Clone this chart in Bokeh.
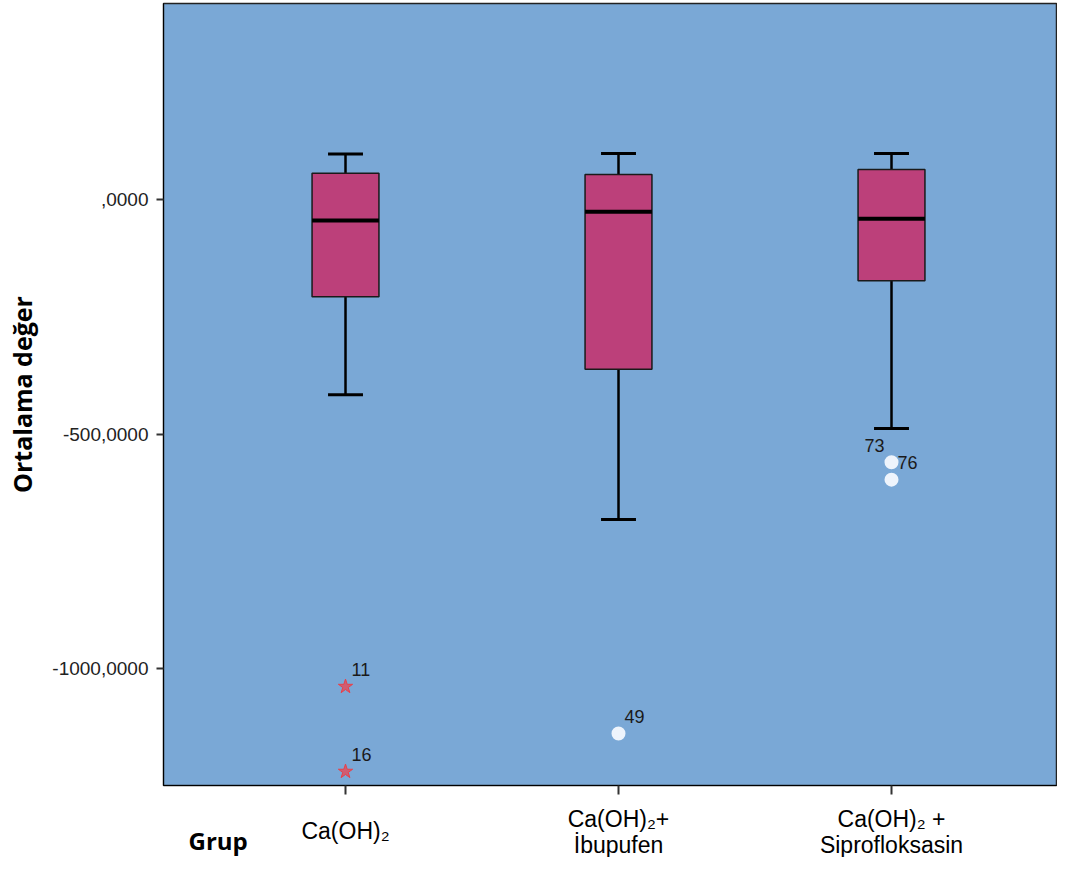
from bokeh.plotting import figure
from bokeh.models import Range1d, FixedTicker
from bokeh.layouts import column
from bokeh.core.properties import value
from bokeh.embed import file_html
from bokeh.resources import INLINE

# ---- data ----
groups = [1, 2, 3]
tick_lines = [["Ca(OH)₂"], ["Ca(OH)₂+", "İbupufen"], ["Ca(OH)₂ +", "Siprofloksasin"]]
x_title = "Grup"
y_title = "Ortalama değer"
whisker_hi = [97, 98, 98]
q3 = [56, 53, 64]
median = [-45, -26, -41]
q1 = [-207, -362, -173]
whisker_lo = [-416, -682, -488]

extreme_x = [1, 1]
extreme_y = [-1038, -1219]
extreme_id = ["11", "16"]

outlier_x = [2, 3, 3]
outlier_y = [-1138, -560, -597]
outlier_id = ["49", "73", "76"]
outlier_side = ["right", "left", "right"]

y_ticks = [-1000, -500, 0]
y_tick_labels = ["-1000,0000", "-500,0000", ",0000"]

# ---- styles ----
BG = "#7AA8D6"
BOX = "#BC407A"
FONT = "Liberation Sans"
W = 1057
XR = Range1d(0.3333, 3.6044)

p = figure(width=W, height=800, output_backend="svg", toolbar_location=None,
           x_range=XR, y_range=Range1d(-1248.7, 417.6),
           min_border_left=163, min_border_right=1, min_border_top=3, min_border_bottom=15)
p.background_fill_color = BG
p.border_fill_color = "white"
p.outline_line_color = "#222222"
p.outline_line_width = 1.5
p.xgrid.visible = False
p.ygrid.visible = False

# y axis
p.yaxis.ticker = FixedTicker(ticks=y_ticks)
p.yaxis.major_label_overrides = {t: l for t, l in zip(y_ticks, y_tick_labels)}
p.yaxis.major_label_text_font = FONT
p.yaxis.major_label_text_font_size = "19px"
p.yaxis.major_label_text_color = "#222222"
p.yaxis.major_tick_out = 7
p.yaxis.major_tick_in = 0
p.yaxis.minor_tick_line_color = None
p.yaxis.axis_line_color = "black"
p.yaxis.major_tick_line_color = "#333333"
p.yaxis.major_tick_line_width = 2
p.yaxis.major_label_standoff = 8
p.yaxis.axis_label = y_title
p.yaxis.axis_label_text_font = "Open Sans"
p.yaxis.axis_label_text_font_style = "bold"
p.yaxis.axis_label_text_font_size = "25px"
p.yaxis.axis_label_text_color = "black"
p.yaxis.axis_label_standoff = 10

# x axis: tick marks only; labels drawn in strip below
p.xaxis.ticker = FixedTicker(ticks=groups)
p.xaxis.major_label_overrides = {g: "" for g in groups}
p.xaxis.major_label_text_font_size = "1px"
p.xaxis.major_label_standoff = 0
p.xaxis.major_tick_out = 9
p.xaxis.major_tick_in = 0
p.xaxis.minor_tick_line_color = None
p.xaxis.axis_line_color = "black"
p.xaxis.major_tick_line_color = "#333333"
p.xaxis.major_tick_line_width = 2

# whiskers
BW = 0.245
CW = 0.064
p.segment(x0=groups, y0=q3, x1=groups, y1=whisker_hi, line_color="black", line_width=2.5)
p.segment(x0=groups, y0=q1, x1=groups, y1=whisker_lo, line_color="black", line_width=2.5)
p.segment(x0=[g - CW for g in groups], y0=whisker_hi, x1=[g + CW for g in groups], y1=whisker_hi,
          line_color="black", line_width=3)
p.segment(x0=[g - CW for g in groups], y0=whisker_lo, x1=[g + CW for g in groups], y1=whisker_lo,
          line_color="black", line_width=3)
# boxes
p.vbar(x=groups, width=BW, top=q3, bottom=q1, fill_color=BOX, line_color="#1a1a1a", line_width=1.5)
# medians
p.segment(x0=[g - BW / 2 for g in groups], y0=median, x1=[g + BW / 2 for g in groups], y1=median,
          line_color="black", line_width=4)

# outliers
p.scatter(x=outlier_x, y=outlier_y, marker="circle", size=14, fill_color="#EEF4FC", line_color=None)
p.scatter(x=extreme_x, y=extreme_y, marker="star", size=15, fill_color="#EE4450",
          fill_alpha=0.75, line_color="#E8404A", line_width=1)

# outlier labels
rx = [x for x, s in zip(outlier_x, outlier_side) if s == "right"] + extreme_x
ry = [y for y, s in zip(outlier_y, outlier_side) if s == "right"] + extreme_y
rt = [t for t, s in zip(outlier_id, outlier_side) if s == "right"] + extreme_id
p.text(x=rx, y=ry, text=rt, x_offset=6, y_offset=-17, text_align="left", text_baseline="middle",
       text_font=value(FONT), text_font_size="18px", text_color="#1a1a1a")
lx = [x for x, s in zip(outlier_x, outlier_side) if s == "left"]
ly = [y for y, s in zip(outlier_y, outlier_side) if s == "left"]
lt = [t for t, s in zip(outlier_id, outlier_side) if s == "left"]
p.text(x=lx, y=ly, text=lt, x_offset=-7, y_offset=-17, text_align="right", text_baseline="middle",
       text_font=value(FONT), text_font_size="18px", text_color="#1a1a1a")

# ---- label strip below the axis (category labels and x title) ----
p2 = figure(width=W, height=57, output_backend="svg", toolbar_location=None,
            x_range=XR, y_range=Range1d(57, 0),
            min_border_left=163, min_border_right=1, min_border_top=0, min_border_bottom=0,
            x_axis_location=None, y_axis_location=None)
p2.outline_line_color = None
p2.background_fill_color = "white"
p2.border_fill_color = "white"
p2.xgrid.visible = False
p2.ygrid.visible = False

lab_x, lab_y, lab_t = [], [], []
for g, lines in zip(groups, tick_lines):
    rows = [30] if len(lines) == 1 else [18, 44]
    for line, r in zip(lines, rows):
        lab_x.append(g)
        lab_y.append(r)
        lab_t.append(line)
p2.text(x=lab_x, y=lab_y, text=lab_t, text_align="center", text_baseline="middle",
        text_font=value(FONT), text_font_size="23px", text_color="black")
p2.text(x=[0.425], y=[40], text=[x_title], text_align="left", text_baseline="middle",
        text_font=value("Open Sans"), text_font_style="bold", text_font_size="24px", text_color="black")

layout = column(p, p2, spacing=0)
open("out.html", "w").write(file_html(layout, INLINE))
